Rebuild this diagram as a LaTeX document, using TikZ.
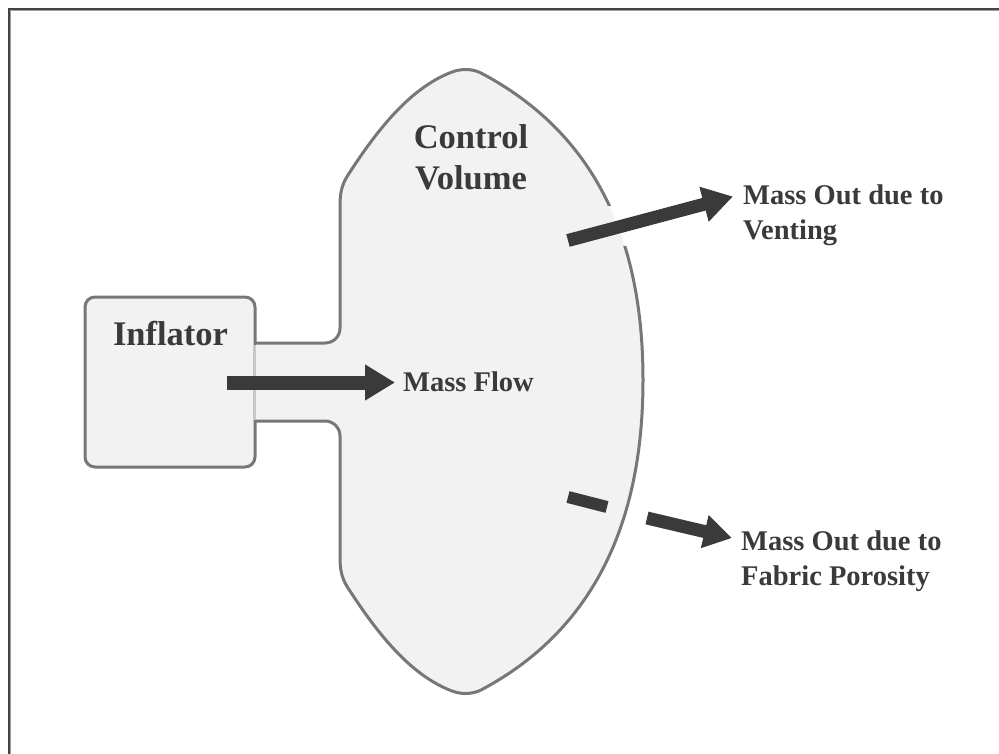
\documentclass[tikz,border=0pt]{standalone}
\usepackage{fontspec}
\setmainfont{Liberation Serif}
\usetikzlibrary{arrows.meta}
\definecolor{cvfill}{HTML}{F2F2F2}
\definecolor{cvline}{HTML}{777777}
\definecolor{cvfaint}{HTML}{C8C8C8}
\definecolor{arr}{HTML}{3A3A3A}
\definecolor{txt}{HTML}{3A3A3A}
\definecolor{framedark}{HTML}{444444}
\definecolor{framelight}{HTML}{A0A0A0}
\begin{document}
\begin{tikzpicture}[x=1pt,y=-1pt,
  bigfont/.style={font=\fontsize{34.5}{41}\selectfont\bfseries, text=txt},
  smallfont/.style={font=\fontsize{28.5}{35}\selectfont\bfseries, text=txt},
  outline/.style={draw=cvline, line width=3pt, line join=round},
  boxstyle/.style={draw=cvline, fill=cvfill, line width=3pt, rounded corners=10pt, inner sep=0pt},
  flowarrow/.style={draw=arr, line width=14pt, -{Triangle[length=30pt,width=34pt]}},
  thinarrow/.style={draw=arr, line width=13pt, -{Triangle[length=28pt,width=32pt]}},
  holedash/.style={draw=arr, line width=12pt}]
\useasboundingbox (0,0) rectangle (999,754);
% frame (top and left only)
\draw[framelight, line width=1pt] (10.8,754) -- (10.8,10.8) -- (999,10.8);
\draw[framedark, line width=2pt] (9,754) -- (9,9) -- (999,9);

% inflator box
\node[boxstyle, minimum width=170pt, minimum height=170pt] (inflator) at (170,382) {};

% control volume fill
\fill[cvfill] (256,343) -- (325,343) .. controls (333.3,343) and (340,336.7) .. (340,328)
  -- (340,205) .. controls (340,190) and (343,182) .. (350,172)
  .. controls (383,121) and (415,86) .. (452,72)
  .. controls (461,68.6) and (472,68.5) .. (481,73)
  .. controls (581,126) and (643,220) .. (643,380)
  .. controls (643,540) and (581,637) .. (481,690)
  .. controls (472,694.5) and (461,694.4) .. (452,691)
  .. controls (415,677) and (383,642) .. (350,591)
  .. controls (343,581) and (340,573) .. (340,558)
  -- (340,436) .. controls (340,427.7) and (333.3,421) .. (325,421) -- (256,421) -- cycle;
% faint inflator edge seen through the neck
\draw[cvfaint, line width=2pt] (255,344.5) -- (255,419.5);

% control volume outline, with the vent gap
\begin{scope}
\clip (0,0) -- (999,0) -- (999,206) -- (598,206) -- (598,246) -- (999,246) -- (999,754) -- (0,754) -- cycle;
\draw[outline] (256,343) -- (325,343) .. controls (333.3,343) and (340,336.7) .. (340,328)
  -- (340,205) .. controls (340,190) and (343,182) .. (350,172)
  .. controls (383,121) and (415,86) .. (452,72)
  .. controls (461,68.6) and (472,68.5) .. (481,73)
  .. controls (581,126) and (643,220) .. (643,380)
  .. controls (643,540) and (581,637) .. (481,690)
  .. controls (472,694.5) and (461,694.4) .. (452,691)
  .. controls (415,677) and (383,642) .. (350,591)
  .. controls (343,581) and (340,573) .. (340,558)
  -- (340,436) .. controls (340,427.7) and (333.3,421) .. (325,421) -- (256,421);
\end{scope}

% labels
\node[bigfont, anchor=base] (inflabel) at (170.5,345) {Inflator};
\node[bigfont, align=center, inner sep=0pt] (cvlabel) at (471,157) {Control\\Volume};
\node[smallfont, anchor=base west, inner sep=0pt] (mflabel) at (403,391) {Mass Flow};
\node[smallfont, anchor=west, align=left, inner sep=0pt] (ventlabel) at (743,215) {Mass Out due to\\Venting};
\node[smallfont, anchor=west, align=left, inner sep=0pt] (porlabel) at (741,561) {Mass Out due to\\Fabric Porosity};

% arrow end points
\coordinate (mfstart) at (227,382.5);
\coordinate (mfend) at (395,382.5);
\coordinate (ventstart) at (568,240.5);
\coordinate (ventend) at (733,196.5);
\coordinate (porstart) at (647,518);
\coordinate (porend) at (732,538);
\coordinate (holea) at (568,497);
\coordinate (holeb) at (607,507);

\draw[flowarrow] (mfstart) -- (mfend);
\draw[flowarrow, line width=13pt] (ventstart) -- (ventend);
\draw[thinarrow] (porstart) -- (porend);
\draw[holedash] (holea) -- (holeb);
\end{tikzpicture}
\end{document}
